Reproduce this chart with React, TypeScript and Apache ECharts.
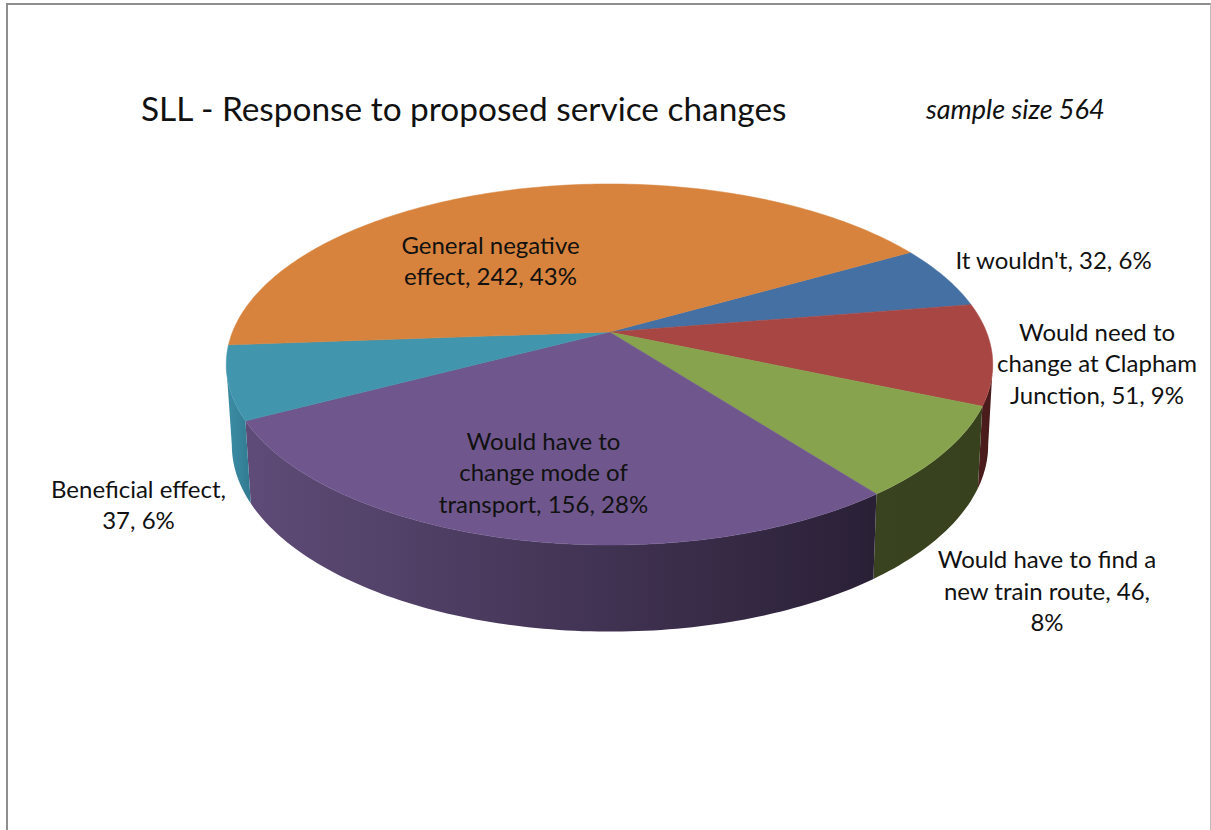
import React, { useEffect, useRef } from "react";
import * as echarts from "echarts";

const categories = [
  "It wouldn't",
  "Would need to change at Clapham Junction",
  "Would have to find a new train route",
  "Would have to change mode of transport",
  "Beneficial effect",
  "General negative effect",
];
const values = [32, 51, 46, 156, 37, 242];
const percents = [6, 9, 8, 28, 6, 43];
const labelLines = [
  ["It wouldn't, 32, 6%"],
  ["Would need to", "change at Clapham", "Junction, 51, 9%"],
  ["Would have to find a", "new train route, 46,", "8%"],
  ["Would have to", "change mode of", "transport, 156, 28%"],
  ["Beneficial effect,", "37, 6%"],
  ["General negative", "effect, 242, 43%"],
];
const titleText = "SLL - Response to proposed service changes";
const sampleText = "sample size 564";

const topColors = ["#4570A4", "#A74643", "#87A34D", "#6F578D", "#4195AC", "#D7833D"];
const wallStops = [
  ["#365a85", "#365a85"],
  ["#4d1d1d", "#4a1b1b"],
  ["#39431f", "#37411e"],
  ["#5E4B77", "#2A2036"],
  ["#3A8AA2", "#317A90"],
  ["#b06a30", "#b06a30"],
];
const labelAnchors = [
  [1053.5, 259],
  [1097, 362.5],
  [1047, 590],
  [543.5, 471.5],
  [138.5, 504],
  [490.5, 260],
];

// Rim projection: a unit disc seen in perspective, so its centre sits above
// the centre of the projected ellipse.
const PERSPECTIVE = 0.18;
const topRim = { ax: 609.5, ay: 332, sx: 377, sy: 174.7 };
const baseRim = { ax: 610, ay: 411.5, sx: 372, sy: 180.5 };
const START_DEG = -29.7; // clockwise from east

// The side wall is visible between the two tangent points of the projected
// ellipse, where the rim reaches its widest screen position.
const TANGENT_DEG = (Math.asin(PERSPECTIVE) * 180) / Math.PI;
const WALL_FROM = TANGENT_DEG;
const WALL_TO = 180 - TANGENT_DEG;

type Rim = typeof topRim;

function project(rim: Rim, deg: number): number[] {
  const r = (deg * Math.PI) / 180;
  const X = Math.cos(r);
  const Y = Math.sin(r);
  const w = 1 - PERSPECTIVE * Y;
  return [rim.ax + (rim.sx * X) / w, rim.ay + (rim.sy * Y) / w];
}

function arc(rim: Rim, from: number, to: number): number[][] {
  const steps = Math.max(1, Math.ceil(Math.abs(to - from)));
  const pts: number[][] = [];
  for (let i = 0; i <= steps; i++) pts.push(project(rim, from + ((to - from) * i) / steps));
  return pts;
}

const total = values.reduce((a, b) => a + b, 0);

function renderSlice(params: any, api: any) {
  const i = params.dataIndex;
  const before = values.slice(0, i).reduce((a, b) => a + b, 0);
  const a0 = START_DEG + (before / total) * 360;
  const a1 = a0 + (api.value(1) / total) * 360;
  const children: any[] = [];

  const w0 = Math.max(a0, WALL_FROM);
  const w1 = Math.min(a1, WALL_TO);
  if (w1 > w0) {
    children.push({
      type: "polygon",
      z2: 1,
      shape: { points: [...arc(topRim, w0, w1), ...arc(baseRim, w1, w0)] },
      style: {
        fill: new echarts.graphic.LinearGradient(
          project(baseRim, w0)[0],
          0,
          project(baseRim, w1)[0],
          0,
          [
            { offset: 0, color: wallStops[i][1] },
            { offset: 1, color: wallStops[i][0] },
          ],
          true,
        ),
      },
    });
  }

  children.push({
    type: "polygon",
    z2: 2,
    shape: { points: [[topRim.ax, topRim.ay], ...arc(topRim, a0, a1)] },
    style: { fill: topColors[i], stroke: topColors[i], lineWidth: 0.5 },
  });

  children.push({
    type: "text",
    z2: 3,
    style: {
      x: labelAnchors[i][0],
      y: labelAnchors[i][1],
      text: labelLines[i].join("\n"),
      fill: "#111111",
      fontFamily: "Lato",
      fontSize: 24,
      lineHeight: 31.5,
      align: "center",
      verticalAlign: "middle",
    },
  });

  return { type: "group", children };
}

export default function App() {
  const ref = useRef<HTMLDivElement>(null);

  useEffect(() => {
    const chart = echarts.init(ref.current!, null, { renderer: "svg" });
    chart.setOption({
      animation: false,
      backgroundColor: "#ffffff",
      title: {
        text: titleText,
        left: 141,
        top: 91.5,
        padding: 0,
        textStyle: { fontFamily: "Lato", fontSize: 33.4, fontWeight: "normal", color: "#111111" },
      },
      graphic: [
        { type: "line", shape: { x1: 7, y1: 3, x2: 7, y2: 830 }, style: { stroke: "#8e8e8e", lineWidth: 2 } },
        { type: "line", shape: { x1: 6, y1: 4, x2: 1211, y2: 4 }, style: { stroke: "#8e8e8e", lineWidth: 2 } },
        { type: "line", shape: { x1: 1210.5, y1: 4, x2: 1210.5, y2: 830 }, style: { stroke: "#bdbdbd", lineWidth: 1 } },
        {
          type: "text",
          x: 926,
          y: 94.5,
          style: {
            text: sampleText,
            fill: "#111111",
            fontFamily: "Lato",
            fontStyle: "italic",
            fontSize: 27,
          },
        },
      ],
      series: [
        {
          type: "custom",
          coordinateSystem: "none",
          silent: true,
          renderItem: renderSlice,
          data: categories.map((name, i) => ({ name, value: [i, values[i], percents[i]] })),
        },
      ],
    });
    return () => chart.dispose();
  }, []);

  return <div ref={ref} style={{ position: "fixed", left: 0, top: 0, width: 1211, height: 830 }} />;
}
